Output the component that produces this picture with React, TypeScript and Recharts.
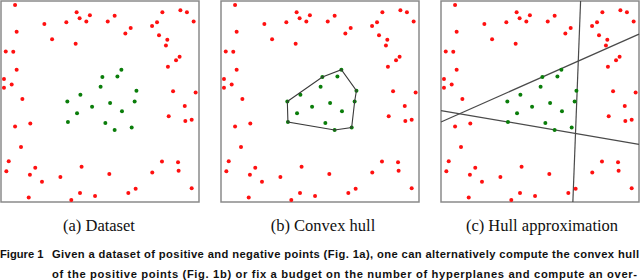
import { ReferenceArea, ReferenceLine, Scatter, ScatterChart, XAxis, YAxis } from 'recharts';

// point positions, box = [0,100] x [0,100]
const negativePoints: Array<[number, number]> = [
  [7.1, 98.0], [38.2, 94.4], [44.9, 92.9], [39.7, 91.4], [33.0, 89.4], [43.1, 89.8], [21.9, 88.6],
  [57.4, 92.7], [53.9, 89.8], [81.5, 94.4], [90.6, 95.4], [93.9, 94.4], [97.3, 89.8], [78.8, 89.4],
  [76.3, 87.6], [65.5, 86.6], [62.8, 83.8], [7.9, 84.7], [25.8, 81.0], [37.7, 78.7], [79.8, 83.0],
  [84.0, 80.7], [83.3, 77.9], [2.4, 74.9], [6.2, 74.8], [90.2, 72.3], [88.4, 70.5], [84.3, 67.3],
  [7.9, 65.8], [1.5, 61.2], [5.4, 58.4], [1.5, 56.8], [86.9, 55.1], [98.3, 54.5], [10.8, 51.3],
  [92.8, 47.7], [84.7, 42.7], [96.3, 40.9], [93.1, 40.3], [7.1, 37.6], [14.8, 39.1], [10.1, 27.4],
  [3.9, 20.3], [2.7, 15.3], [17.3, 17.0], [14.6, 13.5], [40.7, 17.5], [30.0, 12.4], [20.7, 10.1],
  [54.7, 13.9], [81.3, 20.1], [89.4, 19.8], [76.4, 14.7], [89.7, 15.5], [96.3, 6.9], [68.0, 6.6],
  [64.3, 4.5], [39.9, 4.5], [47.5, 3.0], [14.0, 2.3], [35.5, 1.0],
];

const positivePoints: Array<[number, number]> = [
  [60.8, 65.8], [51.2, 62.2], [58.8, 62.5], [50.3, 57.3], [68.4, 55.4], [40.1, 53.3], [33.5, 50.0], [55.1, 49.3],
  [67.5, 50.0], [46.0, 47.4], [38.4, 44.2], [61.1, 45.2], [33.8, 39.8], [52.7, 39.3], [66.0, 37.1], [57.4, 35.8],
];

// convex hull of the positive points, in drawing order (closed)
const hullPoints: Array<[number, number]> = [
  [33.5, 50.0], [51.2, 62.2], [60.8, 65.8], [68.4, 55.4], [67.5, 50.0], [66.0, 37.1], [57.4, 35.8], [33.8, 39.8], [33.5, 50.0],
];

// the three hyperplanes of the approximation, as [x1, y1, x2, y2]
const hyperplanes: Array<[number, number, number, number]> = [
  [70.5, 100, 66.6, 0],
  [0, 39.8, 100, 83.5],
  [0, 45.5, 100, 28.7],
];

const panelLabels = ['(a) Dataset', '(b) Convex hull', '(c) Hull approximation'];
const captionLines = [
  'Given a dataset of positive and negative points (Fig. 1a), one can alternatively compute the convex hull',
  'of the positive points (Fig. 1b) or fix a budget on the number of hyperplanes and compute an over-',
];

const toXY = (list: Array<[number, number]>) => list.map(([x, y]) => ({ x, y }));
const negData = toXY(negativePoints);
const posData = toXY(positivePoints);
const hullData = toXY(hullPoints);

const dot = (color: string) => (props: any) => <circle cx={props.cx} cy={props.cy} r={2} fill={color} />;

function Panel({ kind, left }: { kind: number; left: number }) {
  return (
    <div style={{ position: 'absolute', left, top: 0 }}>
      <ScatterChart width={200} height={203} margin={{ top: 1, right: 1, bottom: 1, left: 1 }}>
        <XAxis type="number" dataKey="x" domain={[0, 100]} hide />
        <YAxis type="number" dataKey="y" domain={[0, 100]} hide />
        <ReferenceArea x1={0} x2={100} y1={0} y2={100} fill="none" stroke="#8a8a8a" strokeWidth={1.5} ifOverflow="visible" />
        <Scatter data={negData} shape={dot('#ff1010')} isAnimationActive={false} />
        <Scatter data={posData} shape={dot('#0a7d0a')} isAnimationActive={false} />
        {kind === 1 && (
          <Scatter data={hullData} line={{ stroke: '#3a3a3a', strokeWidth: 1.1 }} lineType="joint" shape={() => <g />} isAnimationActive={false} />
        )}
        {kind === 2 && hyperplanes.map(([x1, y1, x2, y2], i) => (
          <ReferenceLine key={i} segment={[{ x: x1, y: y1 }, { x: x2, y: y2 }]} stroke="#4a4a4a" strokeWidth={1.2} ifOverflow="visible" />
        ))}
      </ScatterChart>
    </div>
  );
}

export default function App() {
  const capFont = { fontFamily: 'Liberation Sans', fontWeight: 'bold', fontSize: 11.2, fill: '#111' };
  return (
    <div style={{ position: 'absolute', left: 0, top: 0, width: 640, height: 280, overflow: 'hidden', background: '#fff' }}>
      <Panel kind={0} left={0} />
      <Panel kind={1} left={220} />
      <Panel kind={2} left={440} />
      <svg width={640} height={280} style={{ position: 'absolute', left: 0, top: 0 }}>
        {panelLabels.map((label, i) => (
          <text key={label} x={[99, 323, 542][i]} y={231} textAnchor="middle" fontFamily="Liberation Serif" fontSize={16.5} fill="#111">{label}</text>
        ))}
        <text x={0} y={258} {...capFont}>Figure 1</text>
        <text x={52} y={258} textLength={587} lengthAdjust="spacing" {...capFont}>{captionLines[0]}</text>
        <text x={52} y={278} textLength={585} lengthAdjust="spacing" {...capFont}>{captionLines[1]}</text>
      </svg>
    </div>
  );
}
